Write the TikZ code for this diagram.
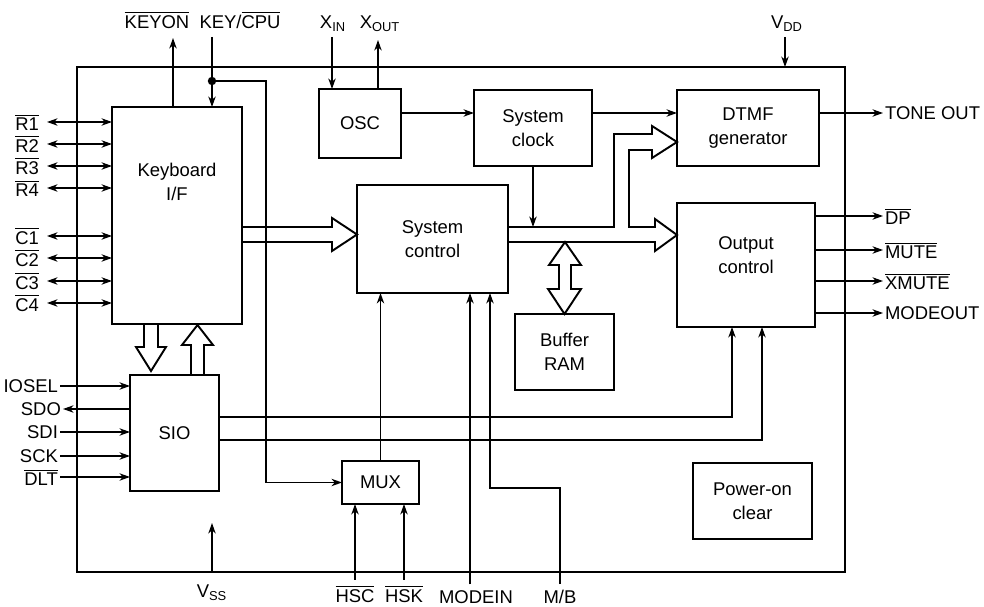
\documentclass[tikz,border=0pt]{standalone}
\usepackage{fontspec}
\setmainfont{Liberation Sans}
\usetikzlibrary{positioning, arrows.meta, calc}
\newcommand{\barsig}[1]{$\overline{\mbox{#1}}$}
\tikzset{
  blk/.style={draw, line width=1.2pt, inner sep=0pt, outer sep=0pt, align=center},
  pin/.style={inner sep=1pt},
  sig/.style={line width=1.1pt, -{Stealth[length=6pt,width=4.2pt]}},
  bidir/.style={line width=1.1pt, {Stealth[length=6pt,width=4.2pt]}-{Stealth[length=6pt,width=4.2pt]}},
  bus/.style={line width=1.1pt, line join=miter}
}

\begin{document}
\begin{tikzpicture}[x=0.02cm, y=-0.02cm, font=\fontsize{10.5pt}{13.5pt}\selectfont]
  \useasboundingbox (0,0) rectangle (984,607);

  % chip outline
  \node[blk, minimum width=15.36cm, minimum height=10.10cm] (chip) at (461,319.5) {};

  % blocks
  \node[blk, minimum width=2.6cm, minimum height=4.34cm] (kbd) at (177,215.5) {};
  \node[align=center] (kbdtxt) at (177,182) {Keyboard\\I/F};
  \node[blk, minimum width=1.78cm, minimum height=2.32cm] (sio) at (174.5,433) {SIO};
  \node[blk, minimum width=1.64cm, minimum height=1.38cm] (osc) at (360,123.5) {OSC};
  \node[blk, minimum width=2.36cm, minimum height=1.52cm] (sclk) at (533,128) {System\\clock};
  \node[blk, minimum width=2.84cm, minimum height=1.52cm] (dtmf) at (748,128) {DTMF\\generator};
  \node[blk, minimum width=3.02cm, minimum height=2.16cm] (sysc) at (432.5,239) {System\\control};
  \node[blk, minimum width=1.98cm, minimum height=1.52cm] (ram) at (564.5,352) {Buffer\\RAM};
  \node[blk, minimum width=2.76cm, minimum height=2.48cm] (outc) at (746,265) {};
  \node[align=center] (outctxt) at (746,255) {Output\\control};
  \node[blk, minimum width=1.54cm, minimum height=0.86cm] (mux) at (380.5,482.5) {MUX};
  \node[blk, minimum width=2.38cm, minimum height=1.52cm] (por) at (752.5,501) {Power-on\\clear};

  % top pins
  \node (keyon) at (157,20) {\barsig{KEYON}};
  \coordinate (keyonpin) at (173,38);
  \draw[sig] (kbd.north -| keyonpin) -- (keyonpin);
  \node (keycpu) at (240,20) {KEY/\barsig{CPU}};
  \coordinate (keycpupin) at (212,37);
  \coordinate (keydot) at (212,81);
  \draw[sig] (keycpupin) -- (kbd.north -| keycpupin);
  \fill (keydot) circle (2.4pt);
  \draw[sig] (keydot) -- (keydot -| 266,0) |- (mux.west);

  \node (xin) at (333,24) {X\textsubscript{IN}};
  \node (xout) at (380,24) {X\textsubscript{OUT}};
  \coordinate (xinpin) at (332,37);
  \coordinate (xoutpin) at (378,40);
  \draw[sig] (xinpin) -- (osc.north -| xinpin);
  \draw[sig] (osc.north -| xoutpin) -- (xoutpin);

  \node (vdd) at (787,24) {V\textsubscript{DD}};
  \coordinate (vddpin) at (785,37);
  \draw[sig] (vddpin) -- (chip.north -| vddpin);

  % clock chain
  \coordinate (clkrow) at (0,113);
  \draw[sig] (osc.east |- clkrow) -- (sclk.west |- clkrow);
  \draw[sig] (sclk.east |- clkrow) -- (dtmf.west |- clkrow);
  \node[pin, anchor=west] (tone) at (883,113) {TONE OUT};
  \draw[sig] (dtmf.east |- clkrow) -- (tone.west);

  % keyboard rows and columns
  \foreach \nm/\yy in {R1/122, R2/144, R3/166, R4/188, C1/236, C2/258, C3/281, C4/303} {
    \node[pin, anchor=east] (pin\nm) at (41,\yy) {\barsig{\nm}};
    \draw[bidir] ($(pin\nm.east)+(6,0)$) -- (kbd.west |- pin\nm.east);
  }

  % serial pins
  \foreach \nm/\yy/\txt in {iosel/386/IOSEL, sdi/432/SDI, sck/456/SCK, dlt/477/\barsig{DLT}} {
    \node[pin, anchor=east] (\nm) at (60,\yy) {\txt};
    \draw[sig] (\nm.east) -- (sio.west |- \nm.east);
  }
  \node[pin, anchor=east] (sdo) at (63,409) {SDO};
  \draw[sig] (sio.west |- sdo.east) -- (sdo.east);

  % output pins
  \foreach \nm/\yy/\txt in {dp/216/\barsig{DP}, mute/250/\barsig{MUTE}, xmute/281/\barsig{XMUTE}, modeout/313/MODEOUT} {
    \node[pin, anchor=west] (\nm) at (883,\yy) {\txt};
    \draw[sig] (outc.east |- \nm.west) -- (\nm.west);
  }

  % buses
  \coordinate (busup) at (0,227);
  \coordinate (buslo) at (0,242);
  \draw[bus] (kbd.east |- busup) -- (332,227) -- (332,218) -- (sysc.west |- 0,234.5)
    -- (332,251) -- (332,242) -- (kbd.east |- buslo);
  \draw[bus] (kbd.south -| 144,0) -- (144,347) -- (136,347) -- (151,371) -- (166,347)
    -- (158,347) -- (kbd.south -| 158,0);
  \draw[bus] (sio.north -| 191,0) -- (191,345) -- (182,345) -- (197.5,325) -- (213,345)
    -- (204,345) -- (sio.north -| 204,0);
  \draw[bus] (sysc.east |- busup) -- (614,227) -- (614,134) -- (652,134) -- (652,126)
    -- (dtmf.west |- 0,142) -- (652,158) -- (652,150) -- (629,150) -- (629,227)
    -- (655,227) -- (655,219) -- (outc.west |- 0,235) -- (655,251) -- (655,242)
    -- (sysc.east |- buslo);
  \draw[bus] (565,242) -- (581,265) -- (571,265) -- (571,289) -- (581,289) -- (ram.north)
    -- (548,289) -- (559,289) -- (559,265) -- (549,265) -- cycle;
  \draw[sig] (sclk.south) -- (sclk.south |- busup);

  % control lines
  \draw[sig] (mux.north) -- (sysc.south -| mux.north);
  \draw[sig] (sio.east |- 0,417) -| (outc.south -| 732,0);
  \draw[sig] (sio.east |- 0,440) -| (outc.south -| 762,0);

  % bottom pins
  \node (vss) at (212,593) {V\textsubscript{SS}};
  \coordinate (vsspin) at (212,523);
  \draw[sig] (chip.south -| vsspin) -- (vsspin);
  \node (hsc) at (355,594) {\barsig{HSC}};
  \node (hsk) at (404,594) {\barsig{HSK}};
  \draw[sig] (hsc.north) -- (mux.south -| hsc.north);
  \draw[sig] (hsk.north) -- (mux.south -| hsk.north);
  \node (modein) at (476,597) {MODEIN};
  \draw[sig] (modein.north -| 470,0) -- (sysc.south -| 470,0);
  \node (mb) at (560,597) {M/B};
  \draw[sig] (mb.north) -- (mb.north |- 0,488) -| (sysc.south -| 490,0);
\end{tikzpicture}
\end{document}
